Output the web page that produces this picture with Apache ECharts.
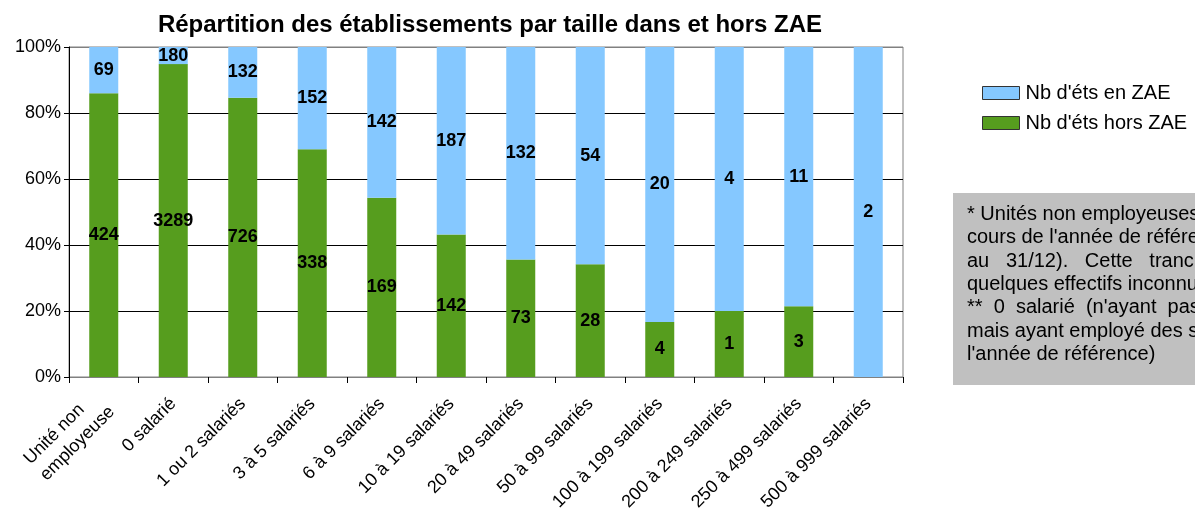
<!DOCTYPE html>
<html>
<head>
<meta charset="utf-8">
<script src="https://cdn.jsdelivr.net/npm/echarts@6/dist/echarts.min.js"></script>
<style>
  html, body { margin: 0; padding: 0; background: #fff; }
  #chart { width: 1195px; height: 509px; }
</style>
</head>
<body>
<div id="chart"></div>
<script>
// tranches de taille
const categories = [
  'Unité non\nemployeuse', '0 salarié', '1 ou 2 salariés', '3 à 5 salariés',
  '6 à 9 salariés', '10 à 19 salariés', '20 à 49 salariés', '50 à 99 salariés',
  '100 à 199 salariés', '200 à 249 salariés', '250 à 499 salariés', '500 à 999 salariés'
];

// nombre d'établissements
const horsZAE = [424, 3289, 726, 338, 169, 142, 73, 28, 4, 1, 3, 0];
const enZAE = [69, 180, 132, 152, 142, 187, 132, 54, 20, 4, 11, 2];

// note en bas à droite (coupée par le bord comme dans l'original)
const noteLines = [
  '* Unités non employeuses (n\'ayant pas',
  'cours de l\'année de référence et',
  'au   31/12).   Cette   tranche',
  'quelques effectifs inconnus.',
  '**  0  salarié  (n\'ayant  pas de',
  'mais ayant employé des salariés',
  'l\'année de référence)'
];

const font = 'Liberation Sans, Arial, sans-serif';

// part en % de chaque tranche
const toPct = (arr) => arr.map((v, i) => ({
  value: v / (horsZAE[i] + enZAE[i]) * 100,
  raw: v
}));

const chart = echarts.init(document.getElementById('chart'));

const barLabel = {
  show: true,
  position: 'inside',
  color: '#000',
  fontFamily: font,
  fontWeight: 'bold',
  fontSize: 18,
  formatter: (p) => p.data.raw ? String(p.data.raw) : ''
};

const option = {
  backgroundColor: '#fff',
  animation: false,
  title: {
    text: 'Répartition des établissements par taille dans et hors ZAE',
    left: 485,
    textAlign: 'center',
    top: 8,
    textStyle: { fontFamily: font, fontSize: 24, fontWeight: 'bold', color: '#000' }
  },
  legend: {
    orient: 'vertical',
    left: 977,
    top: 78,
    itemWidth: 37,
    itemHeight: 13,
    itemGap: 10,
    icon: 'rect',
    data: [
      { name: 'Nb d\'éts en ZAE', itemStyle: { borderColor: '#333', borderWidth: 1 } },
      { name: 'Nb d\'éts hors ZAE', itemStyle: { borderColor: '#333', borderWidth: 1 } }
    ],
    textStyle: { fontFamily: font, fontSize: 20, color: '#000', padding: [0, 0, 0, 1] }
  },
  grid: {
    left: 69,
    right: 292,
    top: 47,
    bottom: 132,
    outerBoundsMode: 'none',
    show: true,
    borderColor: '#808080',
    borderWidth: 1
  },
  xAxis: {
    type: 'category',
    data: categories,
    axisLine: { lineStyle: { color: '#808080', width: 1 } },
    axisTick: { show: true, length: 6, lineStyle: { color: '#000' } },
    axisLabel: {
      interval: 0,
      rotate: 45,
      margin: 24,
      fontFamily: font,
      fontSize: 18,
      color: '#000',
      lineHeight: 23,
      formatter: (v) => v.indexOf('\n') >= 0
        ? v.split('\n').map(s => '{l|' + s + '}').join('\n')
        : v,
      rich: {
        l: { align: 'left', fontFamily: font, fontSize: 18, color: '#000', lineHeight: 23 }
      }
    }
  },
  yAxis: {
    type: 'value',
    min: 0,
    max: 100,
    interval: 20,
    axisLine: { show: true, lineStyle: { color: '#000' } },
    axisTick: { show: true, length: 5, lineStyle: { color: '#000' } },
    axisLabel: {
      formatter: '{value}%',
      fontFamily: font,
      fontSize: 18,
      color: '#000',
      margin: 8
    },
    splitLine: {
      lineStyle: { color: ['#808080', '#000', '#000', '#000', '#000', '#808080'], width: 1 }
    }
  },
  graphic: [
    {
      type: 'rect',
      left: 953,
      top: 193,
      shape: { width: 260, height: 192 },
      style: { fill: '#C0C0C0' },
      z: 1
    },
    {
      type: 'text',
      left: 967,
      top: 203,
      style: {
        text: noteLines.join('\n'),
        font: '20px ' + font,
        fill: '#000',
        lineHeight: 23.3
      },
      z: 2
    }
  ],
  series: [
    {
      name: 'Nb d\'éts hors ZAE',
      type: 'bar',
      stack: 'total',
      barWidth: 29,
      data: toPct(horsZAE),
      itemStyle: { color: '#569D1E' },
      label: barLabel
    },
    {
      name: 'Nb d\'éts en ZAE',
      type: 'bar',
      stack: 'total',
      barWidth: 29,
      data: toPct(enZAE),
      itemStyle: { color: '#85C8FF' },
      label: barLabel
    }
  ]
};

chart.setOption(option);
</script>
</body>
</html>
